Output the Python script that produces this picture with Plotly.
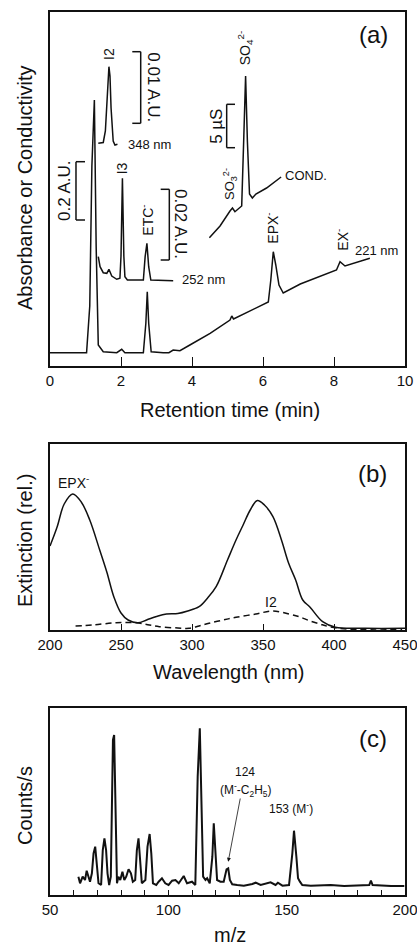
import plotly.graph_objects as go

FONT = "Arial, Liberation Sans, Helvetica, sans-serif"
INK = "#111111"

# ---------------- Panel (a): chromatograms (retention time in min, signal in plot units)
t_221 = [0.0, 1.03, 1.12, 1.18, 1.25, 1.30, 1.36, 1.50, 1.88, 2.02, 2.11, 2.63, 2.70, 2.74, 2.78,
         2.85, 3.19, 3.35, 3.47, 3.66, 3.94, 4.51, 5.07, 5.12, 5.17, 6.15, 6.22, 6.29, 6.36, 6.45,
         6.57, 7.05, 8.07, 8.17, 8.31, 9.01]
s_221 = [13.3, 13.3, 60, 200, 266, 120, 21, 14.3, 13.3, 16.7, 13.3, 13.3, 42.7, 74.3, 42.7,
         14.3, 13.3, 13.3, 16, 15.3, 21, 32.7, 46, 50, 47, 64, 86, 114.3, 101, 81,
         73, 82, 96, 104.3, 100, 107.7]

t_252 = [1.36, 1.41, 1.50, 1.60, 1.66, 1.74, 1.88, 1.97, 2.00, 2.04, 2.08, 2.11, 2.18, 2.63,
         2.68, 2.73, 2.78, 2.84, 3.47]
s_252 = [109.3, 99.3, 93.3, 92.7, 96.7, 90, 86.7, 87.7, 110, 187.7, 110, 89.3, 86, 86,
         109.3, 122.7, 99.3, 86, 85.3]

t_348 = [1.36, 1.50, 1.56, 1.60, 1.63, 1.66, 1.69, 1.72, 1.78, 1.83, 1.90]
s_348 = [222.7, 223.5, 235, 262, 290, 299.3, 290, 258, 225, 221, 221.7]

t_cond = [4.49, 4.79, 5.07, 5.14, 5.21, 5.40, 5.46, 5.51, 5.56, 5.62, 5.70, 5.80, 6.10, 6.29, 6.51]
s_cond = [128.3, 140, 155, 158, 154.3, 160, 230, 290, 225, 172, 168, 172, 178, 183, 189]

# ---------------- Panel (b): UV spectra (wavelength nm, relative extinction)
wl_epx = [200, 205, 210, 216, 222, 228, 235, 240, 245, 250, 255, 262, 268, 275, 282, 290, 297,
          305, 311, 317, 325, 331, 336, 341, 346, 351, 357, 363, 368, 373, 378, 383, 392, 401,
          422, 450]
ext_epx = [84, 103, 126, 136, 128, 110, 80, 58, 33, 17, 10, 7.3, 10, 13.5, 16, 16.5, 19,
           23.3, 32, 43.3, 70, 90, 105, 120, 129.5, 125, 113.3, 90, 67, 50, 30, 23, 8.3, 2.7,
           1.7, 1.7]

wl_i2 = [218, 230, 246.5, 260.6, 270, 277, 290, 298, 305, 312, 322, 331, 345, 357, 368.5,
         376, 382.6, 390, 396.7, 410.7, 448]
ext_i2 = [4, 5, 7.3, 7.3, 5, 3.3, 2, 1.7, 4, 6.7, 10, 12.7, 16, 19, 16,
          13, 9.3, 6, 3.3, 0.7, 0.3]

# ---------------- Panel (c): mass spectrum (m/z, counts/s relative)
mz = [62.0, 62.7, 63.8, 64.8, 65.5, 66.2, 66.9, 67.7, 68.4, 69.1, 69.8, 70.5, 71.6, 72.3, 73.0,
      73.7, 74.3, 75.0, 75.7, 76.6, 77.1, 77.7, 78.3, 78.9, 79.7, 80.6, 81.4, 82.2, 83.2, 84.2,
      85.0, 86.0, 86.7, 87.4, 88.1, 88.8, 90.3, 91.2, 92.1, 92.8, 93.5, 94.9, 95.9, 97.3, 98.7,
      100.1, 101.6, 103.0, 104.4, 106.5, 107.9, 110.0, 111.4, 112.4, 113.3, 114.0, 114.7, 115.7,
      116.4, 117.5, 118.6, 119.2, 119.9, 120.6, 122.0, 123.4, 124.6, 125.3, 126.0, 127.0, 129.1,
      131.9, 135.5, 136.9, 139.0, 143.2, 145.3, 146.3, 148.2, 151.0, 152.4, 153.1, 154.1, 154.8,
      155.6, 156.6, 160.2, 168.6, 174.3, 181.4, 184.9, 185.6, 186.3, 194.1, 199.7]
counts = [18.3, 11.7, 18.3, 15, 24.3, 18.3, 13.3, 21.7, 41.7, 48.3, 28.3, 11.7, 10, 45, 56.7,
          45, 21.7, 10, 18.3, 155, 160, 85, 11.7, 18.3, 15, 23.3, 15, 18.3, 25.7, 21.7,
          13.3, 15, 45, 56.7, 35, 11.7, 15, 48.3, 61, 41.7, 11.7, 10, 13.3, 16.7, 11.7,
          10, 14.3, 15, 11.7, 19, 11.7, 13.3, 10, 118.3, 166.7, 85, 18.3, 15,
          16.7, 11.7, 38.3, 71.7, 45, 15, 13.3, 13.3, 25.7, 26.7, 15, 10.7, 10,
          9.3, 11, 12.3, 10, 12.7, 10, 12.3, 9.3, 10, 41.7, 64.3, 38.3, 16.7,
          13.3, 10, 9.3, 10, 9, 9.3, 10, 14.3, 10, 9, 9]

ticks_a = [0, 2, 4, 6, 8, 10]
ticks_b = [200, 250, 300, 350, 400, 450]
ticks_c = list(range(50, 201, 10))
labels_c = [str(v) if v % 50 == 0 else "" for v in ticks_c]

fig = go.Figure()
line_a = dict(color=INK, width=1.5)
for xs, ys in [(t_221, s_221), (t_252, s_252), (t_348, s_348), (t_cond, s_cond)]:
    fig.add_trace(go.Scatter(x=xs, y=ys, mode="lines", line=line_a, xaxis="x", yaxis="y",
                             showlegend=False, hoverinfo="skip"))
fig.add_trace(go.Scatter(x=wl_epx, y=ext_epx, mode="lines", line=dict(color=INK, width=1.5, shape="spline"),
                         xaxis="x2", yaxis="y2", showlegend=False, hoverinfo="skip"))
fig.add_trace(go.Scatter(x=wl_i2, y=ext_i2, mode="lines",
                         line=dict(color=INK, width=1.5, shape="spline", dash="6px,4px"),
                         xaxis="x2", yaxis="y2", showlegend=False, hoverinfo="skip"))
fig.add_trace(go.Scatter(x=mz, y=counts, mode="lines", line=dict(color=INK, width=2),
                         xaxis="x3", yaxis="y3", showlegend=False, hoverinfo="skip"))

W, H = 417, 945
def px_x(p):
    return p / W
def px_y(p):
    return 1 - p / H

xdom = [px_x(50), px_x(405)]
common_x = dict(showline=True, linecolor=INK, linewidth=1.6, mirror=True, ticks="inside",
                tickcolor=INK, tickwidth=1.3, showgrid=False, zeroline=False, automargin=False,
                ticklabeloverflow="allow",
                tickfont=dict(family=FONT, size=15, color=INK), domain=xdom)
common_y = dict(showline=True, linecolor=INK, linewidth=1.6, mirror=True, ticks="",
                showticklabels=False, showgrid=False, zeroline=False, automargin=False)

fig.update_layout(
    width=W, height=H, margin=dict(l=0, r=0, t=0, b=0, pad=0, autoexpand=False),
    paper_bgcolor="white", plot_bgcolor="white",
    font=dict(family=FONT, color=INK),
    xaxis=dict(common_x, range=[0, 10], tickvals=ticks_a, ticklen=9, anchor="y"),
    yaxis=dict(common_y, range=[0, 354], domain=[px_y(366), px_y(12)], anchor="x"),
    xaxis2=dict(common_x, range=[200, 450], tickvals=ticks_b, ticklen=6, anchor="y2"),
    yaxis2=dict(common_y, range=[0, 186], domain=[px_y(630), px_y(444)], anchor="x2"),
    xaxis3=dict(common_x, range=[50, 200], tickvals=ticks_c, ticktext=labels_c, ticklen=5, anchor="y3"),
    yaxis3=dict(common_y, range=[0, 187], domain=[px_y(895), px_y(708)], anchor="x3"),
)

ann = []
def txt(x, y, s, size, angle=0, xref="x", yref="y", xanchor="center"):
    ann.append(dict(x=x, y=y, xref=xref, yref=yref, text=s, showarrow=False, textangle=angle,
                    xanchor=xanchor, yanchor="middle", font=dict(family=FONT, size=size, color=INK)))

# panel (a) labels
txt(9.10, 331, "(a)", 24)
txt(1.662, 312, "I2", 14, -90)
txt(2.037, 198, "I3", 14, -90)
txt(2.724, 146, "ETC<sup>-</sup>", 14, -90)
txt(6.245, 138, "EPX<sup>-</sup>", 14, -90)
txt(8.217, 126, "EX<sup>-</sup>", 14, -90)
txt(5.50, 318, "SO<sub>4</sub><sup>2-</sup>", 14, -90)
txt(5.07, 182, "SO<sub>3</sub><sup>2-</sup>", 13, -90)
txt(2.14, 221, "348 nm", 13, xanchor="left")
txt(3.66, 86, "252 nm", 13, xanchor="left")
txt(8.53, 115, "221 nm", 13, xanchor="left")
txt(6.56, 190, "COND.", 13, xanchor="left")
txt(2.91, 278.5, "0.01 A.U.", 17, 90)
txt(0.42, 175, "0.2 A.U.", 17, -90)
txt(3.66, 142, "0.02 A.U.", 17, 90)
txt(4.70, 240, "5 µS", 17, -90)

# panel (b) labels
txt(427, 156.7, "(b)", 24, xref="x2", yref="y2")
txt(216.4, 148.3, "EPX<sup>-</sup>", 14, xref="x2", yref="y2")
txt(355.6, 28.3, "I2", 14, xref="x2", yref="y2")

# panel (c) labels
txt(186.3, 156.7, "(c)", 24, xref="x3", yref="y3")
txt(132.6, 123.3, "124", 12, xref="x3", yref="y3")
txt(132.6, 105, "(M<sup>-</sup>-C<sub>2</sub>H<sub>5</sub>)", 12, xref="x3", yref="y3")
txt(151.7, 86.7, "153 (M<sup>-</sup>)", 12, xref="x3", yref="y3")
ann.append(dict(x=125.3, y=33.3, ax=130.5, ay=98, xref="x3", yref="y3", axref="x3", ayref="y3",
                text="", showarrow=True, arrowhead=2, arrowsize=1, arrowwidth=0.8, arrowcolor=INK))

# axis titles
TT = 20
txt(px_x(25), px_y(188), "Absorbance or Conductivity", TT, -90, "paper", "paper")
txt(px_x(25), px_y(541), "Extinction (rel.)", TT, -90, "paper", "paper")
txt(px_x(25), px_y(806), "Counts/s", TT, -90, "paper", "paper")
txt(px_x(230), px_y(410), "Retention time (min)", TT, 0, "paper", "paper")
txt(px_x(229), px_y(672), "Wavelength (nm)", TT, 0, "paper", "paper")
txt(px_x(230), px_y(935), "m/z", TT, 0, "paper", "paper")
fig.update_layout(annotations=ann)

# scale-bar brackets in panel (a)
shp = []
def bracket(xv, xs, y0, y1):
    seg = dict(type="line", xref="x", yref="y", line=dict(color=INK, width=1.5))
    shp.append(dict(seg, x0=xv, x1=xv, y0=y0, y1=y1))
    shp.append(dict(seg, x0=xv, x1=xs, y0=y0, y1=y0))
    shp.append(dict(seg, x0=xv, x1=xs, y0=y1, y1=y1))
bracket(2.555, 2.318, 242.7, 314.3)
bracket(0.732, 0.986, 146, 204.3)
bracket(3.361, 3.118, 106, 176.7)
bracket(4.977, 5.211, 218.3, 261.7)
fig.update_layout(shapes=shp)

fig.write_html("out.html", config={"displayModeBar": False},
               post_script="document.body.style.margin='0';document.body.style.overflow='hidden';")
